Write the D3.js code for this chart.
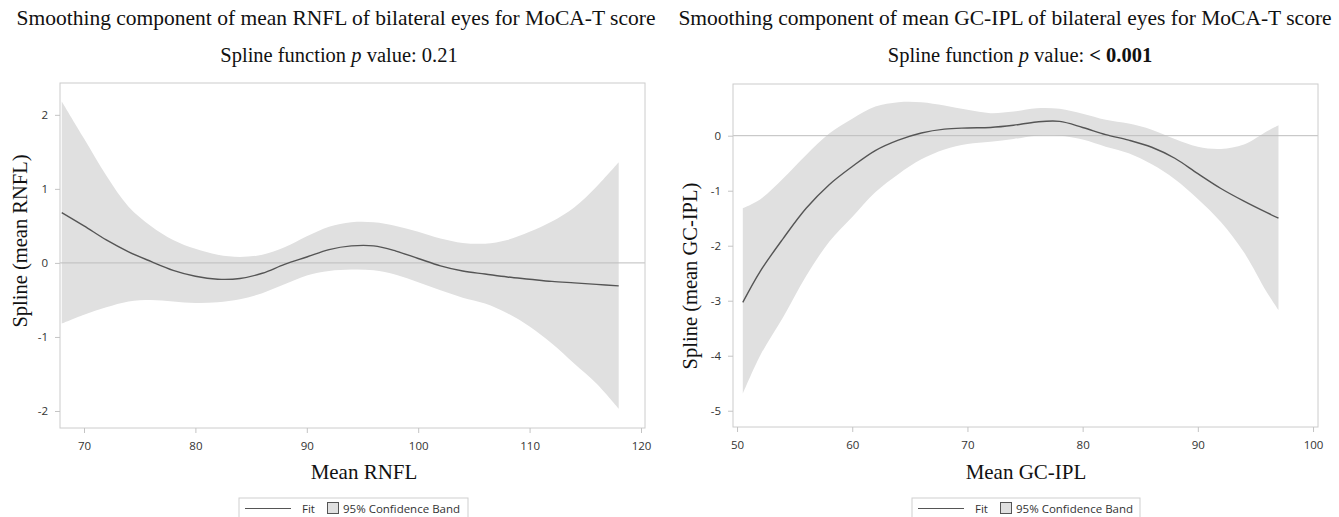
<!DOCTYPE html>
<html><head><meta charset="utf-8">
<script src="https://cdn.jsdelivr.net/npm/d3@7/dist/d3.min.js"></script>
<style>body{margin:0;background:#fff}svg{display:block}</style>
</head><body>
<svg id="c" width="1339" height="517"></svg>
<script>
// ---- Left panel data (mean RNFL) ----
const rnflX     = [68,70,72,74,76,78,80,82,84,86,88,90,92,94,96,98,100,102,104,106,108,110,112,114,116,118];
const rnflFit   = [0.68,0.50,0.31,0.15,0.02,-0.10,-0.18,-0.22,-0.21,-0.14,-0.02,0.08,0.18,0.23,0.23,0.16,0.06,-0.04,-0.11,-0.15,-0.19,-0.22,-0.25,-0.27,-0.29,-0.31];
const rnflUpper = [2.18,1.68,1.18,0.76,0.50,0.31,0.19,0.11,0.08,0.11,0.21,0.36,0.49,0.55,0.55,0.50,0.42,0.33,0.27,0.26,0.31,0.42,0.56,0.75,1.03,1.36];
const rnflLower = [-0.82,-0.70,-0.60,-0.52,-0.50,-0.52,-0.54,-0.53,-0.49,-0.41,-0.29,-0.17,-0.11,-0.09,-0.10,-0.16,-0.26,-0.37,-0.47,-0.55,-0.68,-0.86,-1.09,-1.36,-1.63,-1.97];
const rnflXTicks = [70,80,90,100,110,120];
const rnflYTicks = [-2,-1,0,1,2];

// ---- Right panel data (mean GC-IPL) ----
const gcX     = [50.5,52,54,56,58,60,62,64,66,68,70,72,74,76,78,80,82,84,86,88,90,92,94,96,97];
const gcFit   = [-3.03,-2.47,-1.87,-1.32,-0.89,-0.56,-0.27,-0.08,0.05,0.12,0.14,0.15,0.19,0.25,0.26,0.15,0.02,-0.08,-0.21,-0.41,-0.69,-0.96,-1.19,-1.40,-1.50];
const gcUpper = [-1.32,-1.16,-0.78,-0.35,0.04,0.31,0.53,0.61,0.61,0.55,0.47,0.41,0.44,0.50,0.49,0.40,0.29,0.22,0.11,-0.06,-0.20,-0.24,-0.16,0.08,0.19];
const gcLower = [-4.69,-4.00,-3.30,-2.55,-1.93,-1.48,-1.03,-0.70,-0.43,-0.25,-0.15,-0.11,-0.06,0.00,0.00,-0.07,-0.20,-0.32,-0.52,-0.79,-1.15,-1.57,-2.12,-2.85,-3.17];
const gcXTicks = [50,60,70,80,90,100];
const gcYTicks = [-5,-4,-3,-2,-1,0];

const legendItems = ["Fit","95% Confidence Band"];

const svg = d3.select("#c");
const serif = "'Liberation Serif','Times New Roman',serif";
const sans = "'Open Sans','Noto Sans','DejaVu Sans',sans-serif";

function panel(o){
  const g = svg.append("g");
  const x = d3.scaleLinear().domain(o.xd).range([o.l, o.r]);
  const y = d3.scaleLinear().domain(o.yd).range([o.b, o.t]);
  const pts = o.xs.map((v,i)=>({x:v, f:o.fit[i], u:o.up[i], lo:o.lo[i]}));
  g.append("path").datum(pts)
    .attr("d", d3.area().curve(d3.curveCatmullRom).x(d=>x(d.x)).y0(d=>y(d.lo)).y1(d=>y(d.u)))
    .attr("fill","#e0e0e0");
  g.append("line").attr("x1",o.l).attr("x2",o.r).attr("y1",y(0)).attr("y2",y(0))
    .attr("stroke","#bdbdbd").attr("stroke-width",1);
  g.append("path").datum(pts)
    .attr("d", d3.line().curve(d3.curveCatmullRom).x(d=>x(d.x)).y(d=>y(d.f)))
    .attr("fill","none").attr("stroke","#555").attr("stroke-width",1.4);
  g.append("rect").attr("x",o.l).attr("y",o.t).attr("width",o.r-o.l).attr("height",o.b-o.t)
    .attr("fill","none").attr("stroke","#cccccc").attr("stroke-width",1);
  const fmt = d => String(d);
  const ax = g.append("g").attr("transform",`translate(0,${o.b})`)
    .call(d3.axisBottom(x).tickValues(o.xt).tickFormat(fmt).tickSize(5).tickPadding(9));
  const ay = g.append("g").attr("transform",`translate(${o.l},0)`)
    .call(d3.axisLeft(y).tickValues(o.yt).tickFormat(fmt).tickSize(5).tickPadding(7));
  [ax,ay].forEach(a=>{
    a.select(".domain").remove();
    a.selectAll(".tick line").attr("stroke","#c4c4c4");
    a.selectAll(".tick text").attr("fill","#333").style("font-family",sans).style("font-size","11.5px");
  });
  g.append("text").attr("x",o.tx).attr("y",25).attr("text-anchor","middle")
    .style("font-family",serif).style("font-size","21.5px").attr("fill","#111").text(o.title);
  const st = g.append("text").attr("x",o.sx).attr("y",62).attr("text-anchor","middle")
    .style("font-family",serif).style("font-size","20.5px").attr("fill","#111");
  st.append("tspan").text("Spline function ");
  st.append("tspan").style("font-style","italic").text("p");
  st.append("tspan").text(" value: ");
  st.append("tspan").style("font-weight",o.pBold?"bold":"normal").text(o.p);
  g.append("text").attr("x",o.xlx).attr("y",479).attr("text-anchor","middle")
    .style("font-family",serif).style("font-size","21px").attr("fill","#111").text(o.xlab);
  g.append("text").attr("transform",`translate(${o.ylx},${o.yly}) rotate(-90)`).attr("text-anchor","middle")
    .style("font-family",serif).style("font-size","20.5px").attr("fill","#111").text(o.ylab);
  const lg = g.append("g").attr("transform",`translate(${o.lgx},498)`);
  lg.append("rect").attr("x",0).attr("y",0).attr("width",o.lgw).attr("height",22)
    .attr("fill","none").attr("stroke","#cfcfcf");
  lg.append("line").attr("x1",6).attr("x2",52).attr("y1",10.5).attr("y2",10.5).attr("stroke","#555").attr("stroke-width",1.2);
  lg.append("text").attr("x",63).attr("y",14.5).style("font-family",sans).style("font-size","11.5px").attr("fill","#333").text(legendItems[0]);
  lg.append("rect").attr("x",88.5).attr("y",4.5).attr("width",11).attr("height",11).attr("fill","#e0e0e0").attr("stroke","#555");
  lg.append("text").attr("x",104).attr("y",14.5).style("font-family",sans).style("font-size","11.5px").attr("fill","#333").text(legendItems[1]);
}

panel({xs:rnflX, fit:rnflFit, up:rnflUpper, lo:rnflLower,
  xd:[67.845,120.36], yd:[-2.23,2.43], l:60, r:645, t:83, b:428,
  xt:rnflXTicks, yt:rnflYTicks,
  title:"Smoothing component of mean RNFL of bilateral eyes for MoCA-T score",
  tx:336, sx:339, p:"0.21", pBold:false,
  xlab:"Mean RNFL", xlx:364, ylab:"Spline (mean RNFL)", ylx:27, yly:241,
  lgx:239, lgw:229});

panel({xs:gcX, fit:gcFit, up:gcUpper, lo:gcLower,
  xd:[49.65,100.43], yd:[-5.296,0.94], l:733, r:1318, t:84, b:427,
  xt:gcXTicks, yt:gcYTicks,
  title:"Smoothing component of mean GC-IPL of bilateral eyes for MoCA-T score",
  tx:1005, sx:1020, p:"< 0.001", pBold:true,
  xlab:"Mean GC-IPL", xlx:1026, ylab:"Spline (mean GC-IPL)", ylx:697, yly:276,
  lgx:912, lgw:228});
</script>
</body></html>
